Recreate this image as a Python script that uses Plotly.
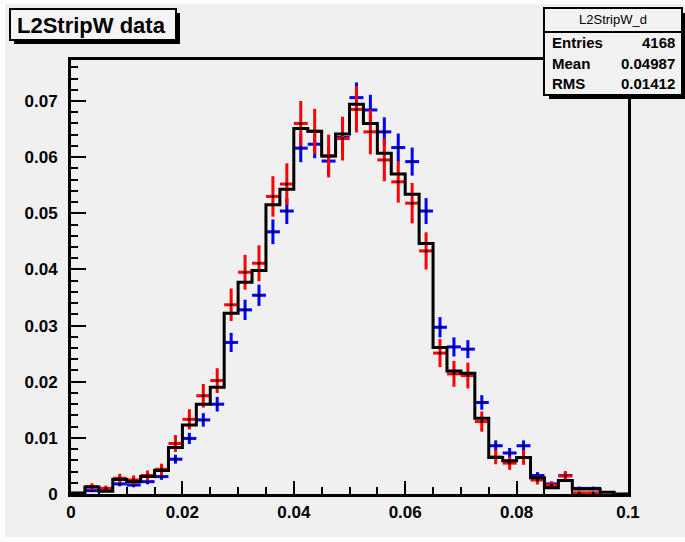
import plotly.graph_objects as go

# Histogram binning: 40 bins of width 0.0025 on [0, 0.1]
bin_lo = 0.0
bin_width = 0.0025
n_bins = 40

# Reference histogram L2StripW_d (normalised, black step line)
hist_d = [0.0002, 0.00125, 0.0005, 0.0026, 0.0022, 0.0031, 0.0042, 0.0083, 0.0123, 0.0160,
          0.0190, 0.0322, 0.0377, 0.0398, 0.0515, 0.0543, 0.0651, 0.0646, 0.0602, 0.0641,
          0.0694, 0.0660, 0.0607, 0.0570, 0.0534, 0.0446, 0.0261, 0.0219, 0.0215, 0.0135,
          0.0065, 0.0059, 0.0065, 0.0029, 0.0011, 0.0024, 0.0009, 0.0009, 0.0003, 0.0]

# Red sample (points with errors)
red_vals = [0.0001, 0.0013, 0.0010, 0.0028, 0.0025, 0.0033, 0.0044, 0.0090, 0.0133, 0.0175,
            0.0202, 0.0337, 0.0395, 0.0411, 0.0530, 0.0552, 0.0660, 0.0646, 0.0602, 0.0633,
            0.0685, 0.0645, 0.0595, 0.0556, 0.0518, 0.0433, 0.0251, 0.0214, 0.0211, 0.0129,
            0.0066, 0.0055, 0.0065, 0.0025, 0.0016, 0.0032, 0.0002, 0.0002, None, None]
red_errs = [0.0002, 0.0006, 0.0005, 0.0008, 0.0008, 0.0009, 0.0010, 0.0015, 0.0018, 0.0021,
            0.0022, 0.0029, 0.0031, 0.0032, 0.0036, 0.0037, 0.0040, 0.0040, 0.0038, 0.0039,
            0.0041, 0.0040, 0.0038, 0.0037, 0.0036, 0.0033, 0.0025, 0.0023, 0.0023, 0.0018,
            0.0013, 0.0012, 0.0013, 0.0008, 0.0006, 0.0009, 0.0002, 0.0002, 0.0, 0.0]

# Blue sample (points with errors)
blue_vals = [None, 0.0006, 0.0008, 0.0018, 0.0016, 0.0022, 0.0031, 0.0062, 0.0099, 0.0132,
             0.0160, 0.0270, 0.0328, 0.0354, 0.0467, 0.0504, 0.0616, 0.0623, 0.0593, 0.0635,
             0.0706, 0.0684, 0.0645, 0.0617, 0.0592, 0.0504, 0.0297, 0.0262, 0.0258, 0.0163,
             0.0086, 0.0073, 0.0086, 0.0033, 0.0018, 0.0033, 0.0010, 0.0010, None, None]
blue_errs = [0.0, 0.00025, 0.0003, 0.00043, 0.0004, 0.00048, 0.00057, 0.0008, 0.0010, 0.0012,
             0.0013, 0.0017, 0.0018, 0.0019, 0.0022, 0.0023, 0.0025, 0.0025, 0.0025, 0.0026,
             0.0027, 0.0027, 0.0026, 0.0025, 0.0025, 0.0023, 0.0018, 0.0017, 0.0016, 0.0013,
             0.00095, 0.0009, 0.00095, 0.0006, 0.00043, 0.0006, 0.0003, 0.0003, 0.0, 0.0]

# Statistics box content
stats_name = "L2StripW_d"
stats_rows = [("Entries", "4168"), ("Mean", "0.04987"), ("RMS", "0.01412")]
title_text = "L2StripW data"

x_ticks = [0, 0.02, 0.04, 0.06, 0.08, 0.1]
x_ticklabels = ["0", "0.02", "0.04", "0.06", "0.08", "0.1"]
y_ticks = [0, 0.01, 0.02, 0.03, 0.04, 0.05, 0.06, 0.07]
y_ticklabels = ["0", "0.01", "0.02", "0.03", "0.04", "0.05", "0.06", "0.07"]

edges = [bin_lo + i * bin_width for i in range(n_bins + 1)]
centers = [bin_lo + (i + 0.5) * bin_width for i in range(n_bins)]

W, H = 685, 542
L, R, T, B = 71, 628, 60, 494   # frame in pixels


def px(x):
    return (x - L) / (R - L)


def py(y):
    return (B - y) / (B - T)


FONT = "Liberation Sans, Arial, Helvetica, sans-serif"

fig = go.Figure()

fig.add_trace(go.Scatter(
    x=centers, y=blue_vals, mode="markers",
    marker=dict(color="black", size=3),
    error_x=dict(type="constant", value=bin_width / 2, color="#0000ff", thickness=3, width=0),
    error_y=dict(type="data", array=blue_errs, color="#0000ff", thickness=3, width=0),
    hoverinfo="skip", showlegend=False,
))
fig.add_trace(go.Scatter(
    x=centers, y=red_vals, mode="markers",
    marker=dict(color="black", size=3),
    error_x=dict(type="constant", value=bin_width / 2, color="#ff0000", thickness=3, width=0),
    error_y=dict(type="data", array=red_errs, color="#ff0000", thickness=3, width=0),
    hoverinfo="skip", showlegend=False,
))
fig.add_trace(go.Scatter(
    x=edges, y=hist_d + [hist_d[-1]], mode="lines",
    line=dict(color="black", width=3, shape="hv"),
    hoverinfo="skip", showlegend=False,
))

shapes = []
# canvas area
shapes.append(dict(type="rect", xref="paper", yref="paper", layer="below",
                   x0=px(5), x1=px(686), y0=py(537), y1=py(4),
                   fillcolor="#f0f0f0", line=dict(width=0)))
# title box with shadow
shapes.append(dict(type="rect", xref="paper", yref="paper",
                   x0=px(14), x1=px(180), y0=py(44), y1=py(13),
                   fillcolor="black", line=dict(width=0)))
shapes.append(dict(type="rect", xref="paper", yref="paper",
                   x0=px(10), x1=px(176), y0=py(40), y1=py(9),
                   fillcolor="#f4f4f4", line=dict(color="black", width=2)))
# stats box with shadow
shapes.append(dict(type="rect", xref="paper", yref="paper",
                   x0=px(549), x1=px(687), y0=py(99), y1=py(13),
                   fillcolor="black", line=dict(width=0)))
shapes.append(dict(type="rect", xref="paper", yref="paper",
                   x0=px(544), x1=px(682), y0=py(95), y1=py(8),
                   fillcolor="#f2f2f2", line=dict(color="black", width=2)))
shapes.append(dict(type="line", xref="paper", yref="paper",
                   x0=px(544), x1=px(682), y0=py(32), y1=py(32),
                   line=dict(color="black", width=2)))

annotations = []
annotations.append(dict(xref="paper", yref="paper", x=px(15), y=py(25),
                        xanchor="left", yanchor="middle", showarrow=False,
                        text=title_text,
                        font=dict(family=FONT, size=22, color="black", weight="bold")))
annotations.append(dict(xref="paper", yref="paper", x=px(613), y=py(20),
                        xanchor="center", yanchor="middle", showarrow=False,
                        text=stats_name, font=dict(family=FONT, size=13, color="black")))
row_y = [42, 63, 83]
for (lab, val), yy in zip(stats_rows, row_y):
    annotations.append(dict(xref="paper", yref="paper", x=px(550), y=py(yy),
                            xanchor="left", yanchor="middle", showarrow=False,
                            text=lab, font=dict(family=FONT, size=15, color="black", weight="bold")))
    annotations.append(dict(xref="paper", yref="paper", x=px(677), y=py(yy),
                            xanchor="right", yanchor="middle", showarrow=False,
                            text=val, font=dict(family=FONT, size=15, color="black", weight="bold")))

tickfont = dict(family=FONT, size=17, color="black", weight="bold")

fig.update_layout(
    width=W, height=H,
    margin=dict(l=L, r=W - R, t=T, b=H - B, pad=0),
    paper_bgcolor="#fcfcfc",
    plot_bgcolor="#f1f1f1",
    shapes=shapes,
    annotations=annotations,
    xaxis=dict(range=[0, 0.1], tickmode="array", tickvals=x_ticks, ticktext=x_ticklabels,
               ticks="inside", ticklen=13, tickwidth=2, tickcolor="black",
               minor=dict(dtick=0.005, tick0=0, ticks="inside", ticklen=7, tickwidth=2, tickcolor="black"),
               showline=True, linewidth=3, linecolor="black", mirror=True,
               showgrid=False, zeroline=False, tickfont=tickfont, ticklabelstandoff=1),
    yaxis=dict(range=[0, 0.0773], tickmode="array", tickvals=y_ticks, ticktext=y_ticklabels,
               ticks="inside", ticklen=15, tickwidth=2, tickcolor="black",
               minor=dict(dtick=0.002, tick0=0, ticks="inside", ticklen=7, tickwidth=2, tickcolor="black"),
               showline=True, linewidth=3, linecolor="black", mirror=True,
               showgrid=False, zeroline=False, tickfont=tickfont, ticklabelstandoff=7),
)

fig.write_html("out.html")
